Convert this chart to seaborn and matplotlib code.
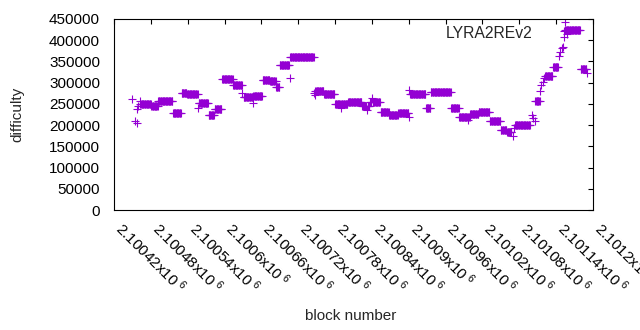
import numpy as np
import pandas as pd
import seaborn as sns
import matplotlib.pyplot as plt
from matplotlib.ticker import FuncFormatter

# runs of blocks that share one difficulty (first block, last block, difficulty)
run_start = [2100450, 2100455, 2100457, 2100458, 2100459, 2100462, 2100463, 2100481, 2100492, 2100516,
             2100530, 2100539, 2100557, 2100558, 2100574, 2100584, 2100596, 2100614, 2100629, 2100631,
             2100646, 2100647, 2100662, 2100674, 2100684, 2100690, 2100706, 2100707, 2100746, 2100747,
             2100748, 2100762, 2100780, 2100790, 2100791, 2100801, 2100824, 2100832, 2100833, 2100837,
             2100840, 2100841, 2100854, 2100868, 2100883, 2100900, 2100901, 2100902, 2100928, 2100936,
             2100969, 2100982, 2100997, 2100998, 2101000, 2101014, 2101032, 2101050, 2101060, 2101069,
             2101072, 2101073, 2101100, 2101103, 2101105, 2101106, 2101114, 2101116, 2101119, 2101121,
             2101122, 2101135, 2101145, 2101146, 2101150, 2101151, 2101152, 2101153, 2101154, 2101155,
             2101180, 2101191]
run_end = [2100450, 2100455, 2100457, 2100458, 2100459, 2100462, 2100480, 2100491, 2100515, 2100529,
           2100538, 2100556, 2100557, 2100573, 2100583, 2100595, 2100613, 2100628, 2100629, 2100645,
           2100646, 2100661, 2100673, 2100683, 2100689, 2100705, 2100706, 2100745, 2100746, 2100747,
           2100761, 2100779, 2100789, 2100790, 2100800, 2100823, 2100831, 2100832, 2100836, 2100839,
           2100840, 2100853, 2100867, 2100882, 2100899, 2100900, 2100901, 2100927, 2100935, 2100968,
           2100981, 2100996, 2100997, 2100999, 2101013, 2101031, 2101049, 2101059, 2101067, 2101069,
           2101072, 2101097, 2101100, 2101103, 2101105, 2101113, 2101114, 2101116, 2101119, 2101121,
           2101134, 2101143, 2101145, 2101146, 2101150, 2101151, 2101152, 2101153, 2101154, 2101179,
           2101189, 2101191]
run_diff = [261000, 210000, 205000, 237000, 244000, 257000, 249000, 244000, 256000, 228000,
            276000, 272500, 241000, 251500, 225000, 238500, 309000, 294000, 276000, 267000,
            251000, 268500, 306000, 303000, 289000, 341000, 310000, 360000, 276000, 272000,
            280000, 272500, 249000, 239500, 249000, 253500, 246000, 235500, 246000, 254500,
            263000, 254500, 231000, 223000, 228500, 219500, 283000, 272500, 241000, 277500,
            239500, 218500, 212000, 218500, 226000, 232000, 210500, 189000, 184000, 175000,
            192500, 201000, 224000, 216000, 209500, 256000, 280500, 294500, 302500, 310500,
            315000, 336000, 363500, 373000, 381000, 385000, 408000, 421500, 442000, 423500,
            333000, 322000]

x_ticks = np.arange(2100420, 2101201, 60)

# one row per block
blocks = np.concatenate([np.arange(a, b + 1) for a, b in zip(run_start, run_end)])
diffs = np.concatenate([np.full(b - a + 1, d) for a, b, d in zip(run_start, run_end, run_diff)])
df = pd.DataFrame({'block': blocks, 'difficulty': diffs})

sns.set_style('white')
plt.rcParams['font.family'] = ['Liberation Sans', 'DejaVu Sans']
plt.rcParams['mathtext.default'] = 'regular'

fig = plt.figure(figsize=(6.4, 3.3), dpi=100)
ax = fig.add_axes([114 / 640, 1 - 210 / 330, 479 / 640, 191 / 330])

sns.scatterplot(data=df, x='block', y='difficulty', marker='+', color='#9400d3',
                s=26, linewidth=0.8, label='LYRA2REv2', ax=ax)

ax.set_xlim(2100420, 2101200)
ax.set_ylim(0, 450000)
ax.set_xticks(x_ticks)
ax.set_yticks(np.arange(0, 450001, 50000))
ax.xaxis.set_major_formatter(FuncFormatter(lambda v, p: r'%gx10$^{\ 6}$' % (v / 1e6)))

for s in ax.spines.values():
    s.set_color('black')
    s.set_linewidth(0.8)
ax.tick_params(direction='in', length=3.5, width=0.8, top=True, right=True,
               labelsize=11, colors='black')
ax.tick_params(axis='y', pad=10)
ax.tick_params(axis='x', pad=14)
for lab in ax.get_xticklabels():
    lab.set_rotation(-45)
    lab.set_ha('left')
    lab.set_va('baseline')
    lab.set_rotation_mode('anchor')

ax.set_xlabel('block number', fontsize=11, va='center')
ax.xaxis.set_label_coords(0.494, -0.555)
ax.set_ylabel('difficulty', fontsize=11, va='center')
ax.yaxis.set_label_coords(-0.2025, 0.5)

ax.legend(loc='upper right', frameon=False, markerfirst=False, fontsize=11.3,
          handletextpad=1.2, borderaxespad=0, bbox_to_anchor=(0.992, 0.994))

fig.savefig('out.png', dpi=100)
